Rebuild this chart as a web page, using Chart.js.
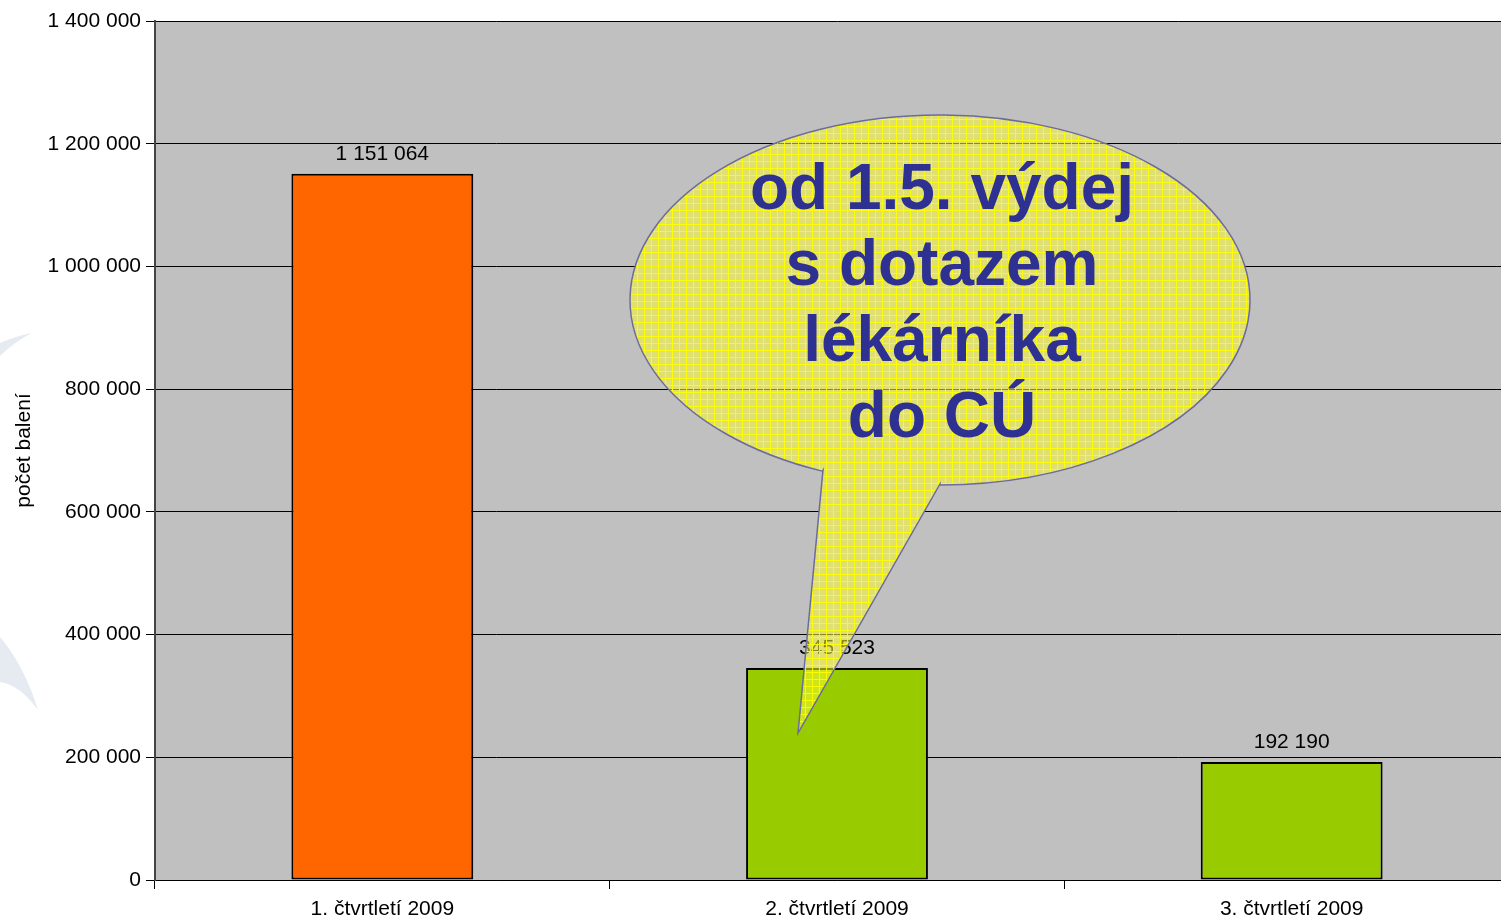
<!DOCTYPE html>
<html>
<head>
<meta charset="utf-8">
<script src="https://cdn.jsdelivr.net/npm/chart.js@4/dist/chart.umd.min.js"></script>
<style>
  html, body { margin: 0; padding: 0; background: #fff; overflow: hidden; }
  #wrap { width: 1520px; height: 922px; }
</style>
</head>
<body>
<div id="wrap"><canvas id="graf"></canvas></div>
<script>
const ctvrtleti = ["1. čtvrtletí 2009", "2. čtvrtletí 2009", "3. čtvrtletí 2009"];
const baleni = [1151064, 345523, 192190];
const barvy = ["#ff6600", "#99cc00", "#99cc00"];
const bublinaText = ["od 1.5. výdej", "s dotazem", "lékárníka", "do CÚ"];

const fmt = v => String(Math.round(v)).replace(/\B(?=(\d{3})+(?!\d))/g, " ");
const PISMO = "'Liberation Sans', Arial, sans-serif";

// pozadí grafu + dekorace vlevo
const pozadi = {
  id: "pozadi",
  beforeDraw(chart) {
    const { ctx, chartArea: a } = chart;
    ctx.save();
    ctx.fillStyle = "#e6ebf1";
    ctx.beginPath();
    ctx.moveTo(0, 343);
    ctx.quadraticCurveTo(16, 336, 32, 333);
    ctx.quadraticCurveTo(14, 342, 0, 356);
    ctx.closePath();
    ctx.fill();
    ctx.beginPath();
    ctx.moveTo(0, 637);
    ctx.quadraticCurveTo(24, 665, 38, 710);
    ctx.quadraticCurveTo(20, 685, 0, 682);
    ctx.closePath();
    ctx.fill();
    ctx.fillStyle = "#c0c0c0";
    ctx.fillRect(a.left, a.top, a.right - a.left, a.bottom - a.top);
    ctx.restore();
  }
};

// hodnoty nad sloupci
const popisky = {
  id: "popisky",
  afterDatasetsDraw(chart) {
    const { ctx } = chart;
    ctx.save();
    ctx.font = "21px " + PISMO;
    ctx.fillStyle = "#000";
    ctx.textAlign = "center";
    ctx.textBaseline = "alphabetic";
    chart.getDatasetMeta(0).data.forEach((bar, i) => {
      ctx.fillText(fmt(baleni[i]), bar.x, bar.y - 14);
    });
    ctx.restore();
  }
};

// bublina
const bublina = {
  id: "bublina",
  afterDraw(chart) {
    const { ctx } = chart;
    const tile = document.createElement("canvas");
    tile.width = 7; tile.height = 7;
    const t = tile.getContext("2d");
    t.fillStyle = "rgba(250,250,50,0.55)";
    t.fillRect(0, 0, 7, 7);
    t.fillStyle = "rgba(255,255,0,0.9)";
    t.fillRect(0, 0, 7, 1);
    t.fillRect(0, 0, 1, 7);
    const pat = ctx.createPattern(tile, "repeat");

    const cx = 940, cy = 300, rx = 310, ry = 185;
    const a1 = Math.atan2((470 - cy) / ry, (823 - cx) / rx);
    const a2 = Math.atan2((484 - cy) / ry, (940 - cx) / rx);
    ctx.save();
    ctx.beginPath();
    ctx.ellipse(cx, cy, rx, ry, 0, a1, a2 + 2 * Math.PI, false);
    ctx.lineTo(940, 484);
    ctx.lineTo(798, 733);
    ctx.lineTo(823, 470);
    ctx.closePath();
    ctx.fillStyle = pat;
    ctx.fill();
    ctx.strokeStyle = "#6b6b9e";
    ctx.lineWidth = 1.5;
    ctx.stroke();

    ctx.font = "bold 64px " + PISMO;
    ctx.fillStyle = "#2e3192";
    ctx.textAlign = "center";
    ctx.textBaseline = "alphabetic";
    bublinaText.forEach((r, i) => ctx.fillText(r, 942, 209 + i * 76));
    ctx.restore();
  }
};

new Chart(document.getElementById("graf"), {
  type: "bar",
  data: {
    labels: ctvrtleti,
    datasets: [{
      data: baleni,
      backgroundColor: barvy,
      borderColor: "#000",
      borderWidth: 2,
      borderSkipped: false,
      barPercentage: 0.4,
      categoryPercentage: 1
    }]
  },
  options: {
    responsive: true,
    maintainAspectRatio: false,
    animation: false,
    layout: { padding: { top: 21, right: 1, left: 0, bottom: 0 } },
    plugins: { legend: { display: false }, tooltip: { enabled: false } },
    scales: {
      x: {
        offset: true,
        grid: { drawOnChartArea: false, offset: true, tickLength: 9, color: "#000" },
        border: { color: "#000", width: 1 },
        ticks: { color: "#000", font: { size: 21, family: PISMO }, padding: 8, maxRotation: 0 },
        afterFit: s => { s.height = 42; }
      },
      y: {
        min: 0,
        max: 1400000,
        ticks: { stepSize: 200000, color: "#000", font: { size: 21, family: PISMO }, padding: 5, callback: v => fmt(v) },
        grid: { color: "#000", lineWidth: 1, tickLength: 9 },
        border: { color: "#444", width: 2 },
        title: { display: true, text: "počet balení", color: "#000", font: { size: 21, family: PISMO }, padding: { top: 12, bottom: 0 } },
        afterFit: s => { s.width = 155; }
      }
    }
  },
  plugins: [pozadi, popisky, bublina]
});
</script>
</body>
</html>
